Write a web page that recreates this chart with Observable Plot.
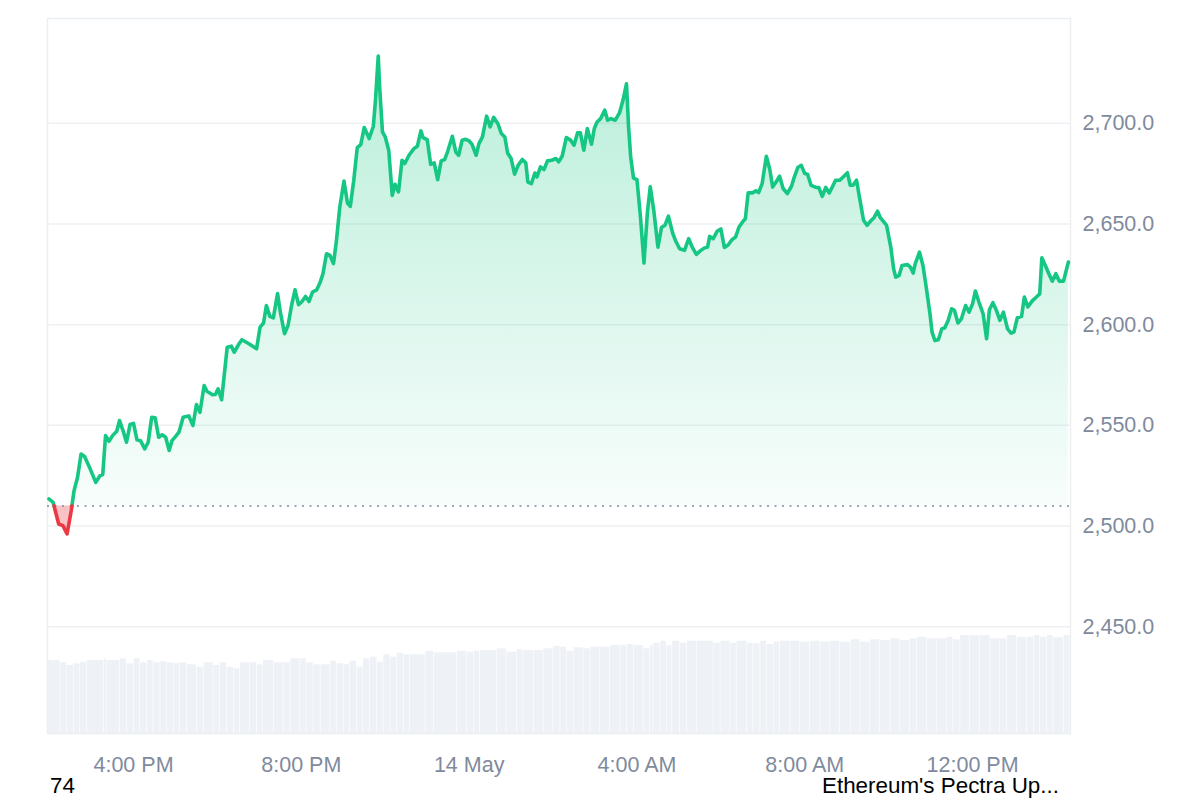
<!DOCTYPE html>
<html><head><meta charset="utf-8">
<script src="https://cdn.jsdelivr.net/npm/d3@7"></script>
<script src="https://cdn.jsdelivr.net/npm/@observablehq/plot@0.6"></script>
<style>
body{margin:0;background:#fff;font-family:"Liberation Sans",Arial,sans-serif;}
#wrap{position:relative;width:1200px;height:800px;overflow:hidden;}
#wrap svg{position:absolute;left:0;top:0;}
.note{position:absolute;font-size:22.4px;color:#000;line-height:1;white-space:nowrap;}
</style></head><body><div id="wrap"></div>
<script>
// ---- data (minutes after 13 May 13:57, price in USD) ----
const times = [
  2,8,16,22,28,34,38,43,48,53,
  61,69,75,79,83,88,93,99,103,108,
  113,118,123,128,133,139,144,149,154,159,
  164,169,174,178,183,188,194,202,208,213,
  218,224,228,236,240,244,249,257,263,267,
  274,278,288,299,304,309,313,318,323,329,
  333,339,344,349,354,359,364,369,374,379,
  385,390,394,399,404,409,413,418,424,429,
  433,438,443,448,453,460,466,469,473,475,
  479,483,488,493,497,502,507,511,517,524,
  529,534,537,543,548,553,558,563,568,572,
  579,584,588,593,598,603,607,613,617,622,
  628,633,638,644,649,654,658,663,668,673,
  679,684,687,692,697,700,705,710,715,721,
  727,731,736,742,748,753,758,762,767,772,
  778,782,786,791,797,801,806,812,818,823,
  828,831,834,838,843,848,853,858,862,867,
  873,878,883,888,894,898,904,911,917,922,
  928,933,939,944,947,952,958,963,968,973,
  979,984,989,994,998,1002,1008,1013,1017,1022,
  1028,1033,1037,1042,1047,1052,1058,1064,1068,1073,
  1078,1083,1087,1092,1099,1103,1108,1113,1118,1122,
  1127,1133,1139,1144,1148,1152,1157,1162,1167,1172,
  1178,1182,1187,1191,1196,1200,1206,1210,1213,1218,
  1222,1230,1234,1238,1241,1247,1252,1257,1262,1265,
  1269,1274,1279,1283,1288,1293,1297,1302,1307,1313,
  1318,1323,1327,1332,1338,1343,1347,1352,1357,1362,
  1367,1373,1378,1382,1387,1393,1397,1402,1408,1415,
  1419,1422,1427,1432,1437,1442,1447,1453,1460
];
const prices = [
  2513.5,2511.8,2501.0,2500.2,2496.1,2507.7,2517.6,2524.2,2535.8,2534.5,
  2528.4,2521.7,2525.0,2525.6,2544.9,2542.1,2544.9,2547.1,2552.4,2547.4,
  2541.6,2550.4,2551.0,2542.8,2542.4,2538.3,2541.6,2554.0,2553.7,2544.1,
  2545.3,2544.1,2537.5,2542.4,2544.4,2546.6,2554.0,2554.7,2549.9,2560.3,
  2556.5,2569.8,2566.9,2565.2,2565.3,2568.1,2562.7,2588.8,2589.3,2586.3,
  2590.5,2592.5,2590.5,2588.0,2598.8,2600.8,2609.5,2604.1,2603.4,2615.4,
  2606.2,2595.5,2599.6,2609.5,2617.3,2609.9,2611.5,2614.0,2611.5,2616.2,
  2617.3,2621.1,2625.3,2635.2,2634.4,2630.3,2641.0,2658.4,2671.3,2660.4,
  2658.7,2671.7,2687.9,2689.4,2697.9,2692.4,2698.5,2711.4,2733.3,2718.0,
  2695.7,2693.2,2686.6,2664.2,2669.7,2665.9,2681.6,2680.0,2684.1,2687.4,
  2688.6,2696.2,2692.9,2691.9,2679.6,2680.3,2672.0,2681.3,2682.0,2685.7,
  2693.5,2685.7,2684.1,2691.6,2692.0,2691.2,2689.6,2684.1,2689.9,2693.2,
  2703.5,2698.2,2702.9,2699.9,2694.9,2693.2,2685.2,2682.5,2674.7,2679.1,
  2682.0,2680.3,2670.8,2670.0,2675.3,2673.3,2678.3,2677.0,2681.3,2681.6,
  2682.5,2680.8,2683.6,2692.9,2691.6,2689.1,2695.2,2695.2,2686.6,2697.4,
  2689.6,2697.4,2700.6,2702.3,2706.5,2701.5,2702.3,2701.5,2705.1,2711.4,
  2719.6,2698.2,2683.3,2672.8,2672.0,2653.5,2630.6,2656.0,2668.5,2656.8,
  2638.5,2648.2,2649.3,2653.9,2645.5,2641.8,2637.7,2636.9,2642.7,2638.5,
  2634.9,2636.5,2638.0,2638.5,2643.8,2642.7,2646.5,2647.5,2638.3,2639.4,
  2642.2,2643.5,2648.5,2651.0,2652.6,2665.4,2665.4,2666.4,2665.6,2670.0,
  2683.6,2677.0,2668.3,2670.8,2673.7,2667.6,2665.1,2668.7,2673.3,2678.0,
  2679.1,2675.0,2674.7,2669.2,2668.1,2668.1,2663.7,2668.1,2665.4,2668.1,
  2671.7,2671.7,2673.7,2675.4,2669.2,2669.2,2671.7,2661.7,2651.8,2649.3,
  2651.8,2653.1,2656.3,2653.1,2651.0,2649.3,2638.5,2627.8,2623.6,2624.5,
  2629.4,2629.8,2628.6,2625.6,2630.3,2636.0,2629.4,2617.8,2605.4,2596.3,
  2592.1,2592.5,2598.0,2598.3,2602.1,2607.9,2607.1,2600.8,2602.9,2609.5,
  2606.2,2610.4,2616.7,2611.2,2605.4,2593.0,2607.4,2610.9,2607.1,2602.1,
  2606.2,2597.9,2595.8,2596.3,2603.4,2604.1,2613.7,2608.8,2611.7,2614.0,
  2615.3,2633.2,2629.4,2625.3,2621.6,2625.3,2621.6,2621.6,2631.1
];
const openPrice = 2510;   // reference (dotted) price
// volume bars: start minute and relative volume
const volTimes = [0,19,28,38,47,57,81,85,104,114,124,133,143,152,162,171,181,190,200,214,224,238,247,257,267,276,290,300,309,324,338,348,362,371,381,391,405,414,424,433,443,452,462,472,481,491,500,510,519,541,553,586,600,610,619,643,657,672,681,696,710,724,734,743,753,767,777,791,805,820,829,839,853,862,867,877,886,894,905,915,929,953,963,977,986,1001,1010,1020,1029,1039,1048,1063,1077,1091,1106,1120,1134,1149,1163,1177,1191,1206,1220,1234,1244,1258,1272,1287,1296,1306,1320,1334,1349,1363,1373,1387,1401,1411,1420,1430,1439,1454];
const volValues = [73,70.7,68,69.7,71.3,73,74.7,73,74.7,69.7,74.7,70.7,73,70.7,72,70.7,69.7,70.7,68.7,66.3,70.7,68,70.7,66.3,64.7,70.7,70.7,68.7,73,70.7,70.7,74.7,74.7,70.7,68.7,68.7,72.3,69.7,68.7,72.3,66.3,74.7,76.3,71.3,78.7,76.3,80.3,78.7,78.7,82.3,80.7,82.3,81.3,82.3,83,84.7,81.3,83.7,83,83,84.7,87,86.3,82.3,85.7,84.7,86.3,86.3,88,88,89,88,84.7,88,90.3,92.3,88,92.3,90.3,92.3,92.3,90.3,92.3,90.3,92.3,90.3,89.7,92.3,89,91.3,92.3,92.3,91.3,92.3,91.3,92.3,91.3,93.7,91.3,93.7,93,94.7,93,94.7,96.3,94.7,94.7,96.3,93.7,98,98,98,94.7,94.7,98,96.3,96.3,98,96.3,98,95.7,98];
const windowEndMinute = 1463;
const yTicks = [2450,2500,2550,2600,2650,2700];
const xTickHours = [[13,16],[13,20],[14,0],[14,4],[14,8],[14,12]];
const xTickLabels = ["4:00 PM","8:00 PM","14 May","4:00 AM","8:00 AM","12:00 PM"];
const notes = ["74","Ethereum's Pectra Up..."];

// ---- build ----
const t0 = Date.UTC(2025,4,13,13,57);
const toDate = m => new Date(t0 + m*60000);
const xDomain = [toDate(0), toDate(windowEndMinute)];
const xTicks = xTickHours.map(([d,h]) => new Date(Date.UTC(2025,4,d,h)));
const fmtX = d => { const i = xTicks.findIndex(t => +t === +d); return i >= 0 ? xTickLabels[i] : ""; };

const pts = times.map((m,i) => ({t: toDate(m), p: prices[i]}));
const full = [];
pts.forEach((d,i) => {
  if (i > 0) {
    const a = pts[i-1];
    if ((a.p - openPrice) * (d.p - openPrice) < 0) {
      const f = (openPrice - a.p) / (d.p - a.p);
      full.push({t: new Date(+a.t + f*(d.t - a.t)), p: openPrice, cross: true});
    }
  }
  full.push(d);
});
const segs = []; let cur = [full[0]];
for (let i = 1; i < full.length; i++) { const d = full[i]; cur.push(d); if (d.cross) { segs.push(cur); cur = [d]; } }
segs.push(cur);
const lineRows = [];
segs.forEach((s,k) => { const up = s.some(d => !d.cross && d.p >= openPrice); s.forEach(d => lineRows.push({t: d.t, p: d.p, seg: k, up})); });

const volData = volTimes.map((m,i) => ({t1: toDate(m), t2: toDate(i+1 < volTimes.length ? volTimes[i+1] : windowEndMinute), v: volValues[i]}));

const W = 1200, H = 800, M = {marginLeft:47, marginRight:130, marginTop:18, marginBottom:67};
const font = '"Liberation Sans", Arial, sans-serif';

const volPlot = Plot.plot({
  width: W, height: H, ...M,
  style: {background: "transparent"},
  x: {type: "utc", domain: xDomain, axis: null},
  y: {domain: [0, 715], axis: null},
  marks: [Plot.rectY(volData, {x1: "t1", x2: "t2", y: "v", fill: "#eef1f5", insetRight: 0.6})]
});

const pricePlot = Plot.plot({
  width: W, height: H, ...M,
  style: {background: "transparent", fontFamily: font, fontSize: "21.5px", color: "#808a9d", overflow: "visible"},
  x: {type: "utc", domain: xDomain, ticks: xTicks, tickFormat: fmtX, tickSize: 0, tickPadding: 23, label: null},
  y: {domain: [2397, 2752], axis: "right", ticks: yTicks, tickFormat: d3.format(",.1f"), tickSize: 0, tickPadding: 12, label: null},
  marks: [
    Plot.ruleY(yTicks, {stroke: "#eef0f3", strokeWidth: 1.5}),
    Plot.frame({stroke: "#eceff2", strokeWidth: 1.5}),
    Plot.areaY(full, {x: "t", y1: d => openPrice, y2: d => Math.max(d.p, openPrice), fill: "url(#upGrad)"}),
    Plot.areaY(full, {x: "t", y1: d => openPrice, y2: d => Math.min(d.p, openPrice), fill: "#ea3943", fillOpacity: 0.3}),
    Plot.ruleY([openPrice], {stroke: "#808a9d", strokeWidth: 1.5, strokeDasharray: "2,5.5"}),
    Plot.line(lineRows.filter(r => r.up), {x: "t", y: "p", z: "seg", stroke: "#16c784", strokeWidth: 3.6, strokeLinejoin: "round", strokeLinecap: "round"}),
    Plot.line(lineRows.filter(r => !r.up), {x: "t", y: "p", z: "seg", stroke: "#ea3943", strokeWidth: 3.6, strokeLinejoin: "round", strokeLinecap: "round"})
  ]
});

// gradient for the rising area
const ns = "http://www.w3.org/2000/svg";
const ys = pricePlot.scale("y");
const defs = document.createElementNS(ns, "defs");
const lg = document.createElementNS(ns, "linearGradient");
lg.setAttribute("id", "upGrad");
lg.setAttribute("gradientUnits", "userSpaceOnUse");
lg.setAttribute("x1", 0); lg.setAttribute("x2", 0);
lg.setAttribute("y1", ys.apply(d3.max(prices)));
lg.setAttribute("y2", ys.apply(openPrice));
[[0, 0.3], [1, 0.03]].forEach(([o, a]) => {
  const s = document.createElementNS(ns, "stop");
  s.setAttribute("offset", o); s.setAttribute("stop-color", "#16c784"); s.setAttribute("stop-opacity", a);
  lg.appendChild(s);
});
defs.appendChild(lg);
pricePlot.insertBefore(defs, pricePlot.firstChild);

const wrap = document.getElementById("wrap");
wrap.appendChild(volPlot);
wrap.appendChild(pricePlot);

const n1 = document.createElement("div"); n1.className = "note"; n1.textContent = notes[0];
n1.style.left = "50px"; n1.style.top = "775px";
const n2 = document.createElement("div"); n2.className = "note"; n2.textContent = notes[1];
n2.style.left = "822px"; n2.style.top = "775px";
wrap.appendChild(n1); wrap.appendChild(n2);
</script></body></html>
